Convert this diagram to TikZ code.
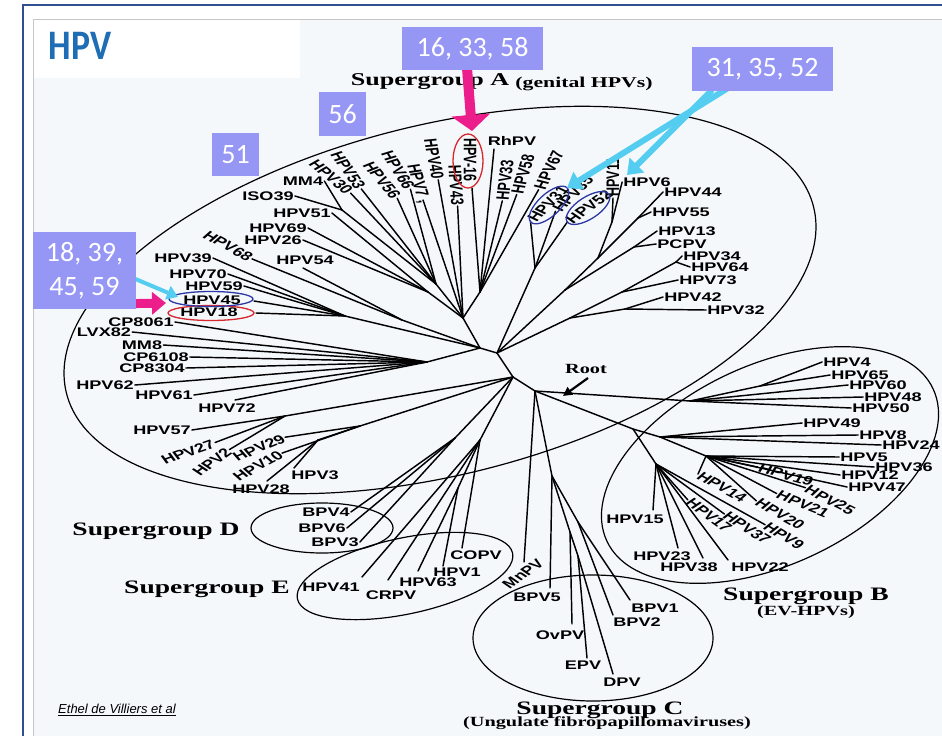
\documentclass[tikz,border=0pt]{standalone}
\usepackage{fontspec}
\usepackage{graphicx}
\setmainfont{Liberation Serif}
\newfontfamily\labfont{Liberation Sans}
\newfontfamily\boxfont{Carlito}
\usetikzlibrary{arrows.meta}
\newcommand{\lbl}[2][0]{\scalebox{1.45}[1]{\rotatebox{#1}{#2}}}
\definecolor{hpvblue}{RGB}{31,109,180}
\definecolor{lav}{RGB}{150,150,245}
\definecolor{pinkc}{RGB}{236,30,140}
\definecolor{cyanc}{RGB}{85,205,240}
\definecolor{bgscan}{RGB}{245,248,251}
\definecolor{frameblue}{RGB}{47,79,143}
\definecolor{ringred}{RGB}{215,40,45}
\definecolor{ringblue}{RGB}{45,55,165}
\begin{document}
\begin{tikzpicture}[x=1pt,y=-1pt,
  lab/.style={font=\labfont\bfseries\fontsize{12.5}{13}\selectfont, inner sep=1pt},
  br/.style={draw=black, line width=1.45pt, line cap=round, line join=round},
  grp/.style={draw=black, line width=1.2pt},
  sgbig/.style={font=\bfseries\fontsize{19}{19}\selectfont, inner sep=0pt},
  sgsub/.style={font=\bfseries\fontsize{14}{14}\selectfont, inner sep=0pt},
  numbox/.style={fill=lav, text=white, font=\boxfont\fontsize{28}{34}\selectfont, inner sep=0pt, align=center},
  ringr/.style={draw=ringred, line width=1.3pt},
  ringb/.style={draw=ringblue, line width=1.3pt}
]
\useasboundingbox (0,0) rectangle (942,736);
\fill[white] (0,0) rectangle (942,736);
\fill[bgscan] (33,19) rectangle (942,736);
\fill[white] (34,20) rectangle (300,78);
\draw[gray!45, line width=0.8pt] (33,736) -- (33,19) -- (942,19);
\draw[frameblue, line width=1.6pt] (23,736) -- (23,5) -- (942,5);

% title
\node[text=hpvblue, font=\boxfont\bfseries\fontsize{42}{42}\selectfont, inner sep=0pt] (title) at (80,46) {\scalebox{0.85}[1]{HPV}};

% group ellipses
\draw[grp, rotate around={14:(440,300)}] (440,300) ellipse [x radius=385, y radius=175];
\draw[grp, rotate around={25:(770,465)}] (770,465) ellipse [x radius=180, y radius=100];
\draw[grp] (593,638) ellipse [x radius=120, y radius=63];
\draw[grp] (322,528) ellipse [x radius=71, y radius=25];
\draw[grp, rotate around={12:(405,576)}] (405,576) ellipse [x radius=110, y radius=38];

% ---------- labels ----------
% Supergroup A top
\node[lab] (mm4) at (303,181) {\lbl{MM4}};
\node[lab] (iso39) at (268,196) {\lbl{ISO39}};
\node[lab] (h30) at (331,177) {\lbl[-50]{HPV30}};
\node[lab] (h53) at (348,170) {\lbl[-64]{HPV53}};
\node[lab] (h56) at (382,180) {\lbl[-60]{HPV56}};
\node[lab] (h66) at (398,170) {\lbl[-66]{HPV66}};
\node[lab] (h7) at (418,184) {\lbl[-78]{HPV7\hspace{4pt},}};
\node[lab] (h40) at (434,159) {\lbl[-82]{HPV40}};
\node[lab] (h43) at (456,185) {\lbl[-87]{HPV43}};
\node[lab] (h16) at (470,160) {\lbl[-90]{HPV-16}};
\node[lab] (rh) at (512,141) {\lbl{RhPV}};
\node[lab] (h33) at (505,180) {\lbl[85]{HPV33}};
\node[lab] (h58) at (523,174) {\lbl[78]{HPV58}};
\node[lab] (h67) at (549,170) {\lbl[70]{HPV67}};
\node[lab] (h31) at (548,204) {\lbl[55]{HPV31}};
\node[lab] (h35) at (573,194) {\lbl[55]{HPV35}};
\node[lab] (h52) at (589,207) {\lbl[45]{HPV52}};
\node[lab] (h11) at (613,177) {\lbl[90]{HPV11}};
\node[lab] (h6) at (647,182) {\lbl{HPV6}};
\node[lab] (h44) at (693,192) {\lbl{HPV44}};
\node[lab] (h55) at (681,212) {\lbl{HPV55}};
\node[lab] (h13) at (687,231) {\lbl{HPV13}};
\node[lab] (pcpv) at (682,244) {\lbl{PCPV}};
\node[lab] (h34) at (712,256) {\lbl{HPV34}};
\node[lab] (h64) at (720,267) {\lbl{HPV64}};
\node[lab] (h73) at (708,280) {\lbl{HPV73}};
\node[lab] (h42) at (693,297) {\lbl{HPV42}};
\node[lab] (h32) at (736,310) {\lbl{HPV32}};
% Supergroup A left
\node[lab] (h51) at (302,213) {\lbl{HPV51}};
\node[lab] (h69) at (278,228) {\lbl{HPV69}};
\node[lab] (h26) at (273,240) {\lbl{HPV26}};
\node[lab] (h68) at (228,246) {\lbl[-38]{HPV68}};
\node[lab] (h54) at (305,260) {\lbl{HPV54}};
\node[lab] (h39) at (183,258) {\lbl{HPV39}};
\node[lab] (h70) at (198,274) {\lbl{HPV70}};
\node[lab] (h59) at (214,286) {\lbl{HPV59}};
\node[lab] (h45) at (212,300) {\lbl{HPV45}};
\node[lab] (h18) at (209,312) {\lbl{HPV18}};
\node[lab] (cp8061) at (141,322) {\lbl{CP8061}};
\node[lab] (lvx82) at (104,332) {\lbl{LVX82}};
\node[lab] (mm8) at (142,345) {\lbl{MM8}};
\node[lab] (cp6108) at (156,357) {\lbl{CP6108}};
\node[lab] (cp8304) at (152,368) {\lbl{CP8304}};
\node[lab] (h62) at (105,385) {\lbl{HPV62}};
\node[lab] (h61) at (164,395) {\lbl{HPV61}};
\node[lab] (h72) at (227,408) {\lbl{HPV72}};
\node[lab] (h57) at (162,430) {\lbl{HPV57}};
\node[lab] (h27) at (188,452) {\lbl[27]{HPV27}};
\node[lab] (h2) at (212,462) {\lbl[46]{HPV2}};
\node[lab] (h29) at (259,448) {\lbl[31]{HPV29}};
\node[lab] (h10) at (258,466) {\lbl[38]{HPV10}};
\node[lab] (h3) at (315,475) {\lbl{HPV3}};
\node[lab] (h28) at (261,489) {\lbl{HPV28}};
% D
\node[lab] (bpv4) at (326,512) {\lbl{BPV4}};
\node[lab] (bpv6) at (322,528) {\lbl{BPV6}};
\node[lab] (bpv3) at (335,542) {\lbl{BPV3}};
% E
\node[lab] (h41) at (331,587) {\lbl{HPV41}};
\node[lab] (crpv) at (391,595) {\lbl{CRPV}};
\node[lab] (h63) at (428,582) {\lbl{HPV63}};
\node[lab] (h1) at (457,572) {\lbl{HPV1}};
\node[lab] (copv) at (476,555) {\lbl{COPV}};
\node[lab] (mnpv) at (523,574) {\lbl[45]{MnPV}};
% C
\node[lab] (bpv5) at (537,597) {\lbl{BPV5}};
\node[lab] (ovpv) at (560,635) {\lbl{OvPV}};
\node[lab] (epv) at (583,665) {\lbl{EPV}};
\node[lab] (dpv) at (622,682) {\lbl{DPV}};
\node[lab] (bpv1) at (655,608) {\lbl{BPV1}};
\node[lab] (bpv2) at (637,622) {\lbl{BPV2}};
% B
\node[lab] (h4) at (847,362) {\lbl{HPV4}};
\node[lab] (h65) at (860,375) {\lbl{HPV65}};
\node[lab] (h60) at (878,385) {\lbl{HPV60}};
\node[lab] (h48) at (893,397) {\lbl{HPV48}};
\node[lab] (h50) at (881,408) {\lbl{HPV50}};
\node[lab] (h49) at (832,423) {\lbl{HPV49}};
\node[lab] (h8) at (883,435) {\lbl{HPV8}};
\node[lab] (h24) at (911,445) {\lbl{HPV24}};
\node[lab] (h5) at (864,457) {\lbl{HPV5}};
\node[lab] (h36) at (904,467) {\lbl{HPV36}};
\node[lab] (h12) at (870,475) {\lbl{HPV12}};
\node[lab] (h47) at (877,487) {\lbl{HPV47}};
\node[lab] (h19) at (786,475) {\lbl[-22]{HPV19}};
\node[lab] (h25) at (830,500) {\lbl[-36]{HPV25}};
\node[lab] (h21) at (803,504) {\lbl[-30]{HPV21}};
\node[lab] (h20) at (780,514) {\lbl[-39]{HPV20}};
\node[lab] (h14) at (722,487) {\lbl[-38]{HPV14}};
\node[lab] (h9) at (784,536) {\lbl[-41]{HPV9}};
\node[lab] (h37) at (747,528) {\lbl[-42]{HPV37}};
\node[lab] (h17) at (709,515) {\lbl[-46]{HPV17}};
\node[lab] (h15) at (635,519) {\lbl{HPV15}};
\node[lab] (h23) at (662,556) {\lbl{HPV23}};
\node[lab] (h38) at (689,567) {\lbl{HPV38}};
\node[lab] (h22) at (760,567) {\lbl{HPV22}};

% ---------- coordinates: leaf ends ----------
\coordinate (e30) at (350.6,193.1);
\coordinate (e53) at (361.3,188.9);
\coordinate (e56) at (397.2,198.2);
\coordinate (e66) at (410.4,189.2);
\coordinate (e7) at (423,200);
\coordinate (e40) at (438.2,179.8);
\coordinate (e43) at (457.6,206);
\coordinate (e16) at (472,188);
\coordinate (eRh) at (494,149);
\coordinate (e33) at (502.3,200.9);
\coordinate (e58) at (516.7,194.5);
\coordinate (e67) at (538.6,189.7);
\coordinate (e31) at (530.5,221.2);
\coordinate (e35) at (555.5,211.2);
\coordinate (e52) at (567.5,221.8);
\coordinate (e11) at (613,198);
\coordinate (e68) at (252,258.9);
\coordinate (e54) at (303,268);
\coordinate (e45) at (254,301);
\coordinate (e18) at (256,313);
\coordinate (e72) at (235,400);
\coordinate (e27) at (215.1,442.5);
\coordinate (e2) at (229.4,449.6);
\coordinate (e29) at (285.1,437.2);
\coordinate (e10) at (282,453.1);
\coordinate (e3) at (294,468);
\coordinate (e28) at (267,481);
\coordinate (e41) at (362,577);
\coordinate (eCR) at (388,580);
\coordinate (e63) at (418,571);
\coordinate (eH1) at (443,566);
\coordinate (eCO) at (462,548);
\coordinate (eMn) at (524,562);
\coordinate (eB5) at (550,588);
\coordinate (eOv) at (572,624);
\coordinate (eEPV) at (587,658);
\coordinate (eDPV) at (613,674);
\coordinate (eB1) at (630,600);
\coordinate (eB2) at (613,615);
\coordinate (w19) at (757.8,467.1);
\coordinate (w25) at (805.4,487.7);
\coordinate (w21) at (776.6,493.5);
\coordinate (w20) at (756.3,500.8);
\coordinate (w14) at (698,474.1);
\coordinate (w9) at (765.1,524.7);
\coordinate (w37) at (724.4,514);
\coordinate (w17) at (687.8,499.9);
\coordinate (e15) at (653,510);
\coordinate (e23) at (678,548);
\coordinate (e38) at (703,558);
\coordinate (e22) at (728,560);

% ---------- hubs ----------
\coordinate (C0) at (480,348);
\coordinate (P) at (463,318);
\coordinate (RB) at (497,353);
\coordinate (M) at (513,377);
\coordinate (R) at (535,391);
\coordinate (T2) at (480,292);
\coordinate (pa) at (436,284);
\coordinate (k1) at (342,210);
\coordinate (U1) at (428,292);
\coordinate (LA) at (345,316);
\coordinate (LA2) at (402,320);
\coordinate (LB) at (427,362);
\coordinate (n57) at (285,416);
\coordinate (n3) at (318,440);
\coordinate (n29) at (360,426);
\coordinate (d1) at (455,438);
\coordinate (hubE) at (480,440);
\coordinate (hubE2) at (458,488);
\coordinate (r31) at (535,268);
\coordinate (r11) at (612,222);
\coordinate (r44) at (638,218);
\coordinate (ra) at (598,258);
\coordinate (r13) at (634,247);
\coordinate (rb) at (565,290);
\coordinate (r34) at (676,262);
\coordinate (rc) at (622,292);
\coordinate (re) at (625,309);
\coordinate (rd) at (570,318);
\coordinate (c0) at (552,476);
\coordinate (c1) at (570,532);
\coordinate (c2) at (578,556);
\coordinate (c3) at (578,522);
\coordinate (bT) at (690,401);
\coordinate (b1) at (760,386);
\coordinate (bL1) at (633,429);
\coordinate (bL2) at (660,437);
\coordinate (bL3) at (706,456);
\coordinate (bL4) at (656,464);

% ---------- branches ----------
\draw[br] (P) -- (C0) -- (RB) -- (M) -- (R);
% top-left fan
\draw[br] (mm4.east) -- (k1);
\draw[br] (iso39.east) -- (k1);
\draw[br] (k1) -- (pa);
\draw[br] (e30) -- (pa);
\draw[br] (e53) -- (pa);
\draw[br] (e56) -- (pa);
\draw[br] (e66) -- (pa);
\draw[br] (pa) -- (P);
\draw[br] (e7) -- (P);
\draw[br] (e40) -- (P);
\draw[br] (e43) -- (P);
\draw[br] (e16) -- (T2);
\draw[br] (eRh) -- (T2);
\draw[br] (e33) -- (T2);
\draw[br] (e58) -- (T2);
\draw[br] (e67) -- (T2);
\draw[br] (T2) -- (P);
\draw[br] (h51.east) -- (U1);
\draw[br] (h69.east) -- (U1);
\draw[br] (h26.east) -- (U1);
\draw[br] (U1) -- (P);
% left
\draw[br] (e68) -- (LA2);
\draw[br] (e54) -- (LA2);
\draw[br] (LA2) -- (C0);
\draw[br] (h39.east) -- (LA);
\draw[br] (h70.east) -- (LA);
\draw[br] (h59.east) -- (LA);
\draw[br] (e45) -- (LA);
\draw[br] (e18) -- (LA);
\draw[br] (LA) -- (C0);
\draw[br] (cp8061.east) -- (LB);
\draw[br] (lvx82.east) -- (LB);
\draw[br] (mm8.east) -- (LB);
\draw[br] (cp6108.east) -- (LB);
\draw[br] (cp8304.east) -- (LB);
\draw[br] (h62.east) -- (LB);
\draw[br] (h61.east) -- (LB);
\draw[br] (e72) -- (LB);
\draw[br] (LB) -- (C0);
% lower left
\draw[br] (h57.east) -- (n57) -- (M);
\draw[br] (e27) -- (n57);
\draw[br] (e2) -- (n57);
\draw[br] (e29) -- (n29);
\draw[br] (e10) -- (n29);
\draw[br] (e3) -- (n3);
\draw[br] (e28) -- (n3);
\draw[br] (n3) -- (n29) -- (M);
% right bundle of A
\draw[br] (e31) -- (r31);
\draw[br] (e35) -- (r31);
\draw[br] (e52) -- (r31);
\draw[br] (r31) -- (RB);
\draw[br] (e11) -- (r11);
\draw[br] (h6.west) -- (r11);
\draw[br] (r11) -- (ra);
\draw[br] (h44.west) -- (r44);
\draw[br] (h55.west) -- (r44);
\draw[br] (r44) -- (ra);
\draw[br] (ra) -- (rb);
\draw[br] (h13.west) -- (r13);
\draw[br] (pcpv.west) -- (r13);
\draw[br] (r13) -- (rb);
\draw[br] (rb) -- (RB);
\draw[br] (h34.west) -- (r34);
\draw[br] (h64.west) -- (r34);
\draw[br] (r34) -- (rc);
\draw[br] (h73.west) -- (rc);
\draw[br] (rc) -- (rd);
\draw[br] (h42.west) -- (re);
\draw[br] (h32.west) -- (re);
\draw[br] (re) -- (rd);
\draw[br] (rd) -- (RB);
% D and E
\draw[br] (bpv4.east) -- (d1);
\draw[br] (bpv6.east) -- (d1);
\draw[br] (bpv3.east) -- (d1);
\draw[br] (d1) -- (M);
\draw[br] (e41) -- (hubE);
\draw[br] (eCR) -- (hubE);
\draw[br] (e63) -- (hubE2);
\draw[br] (eH1) -- (hubE2);
\draw[br] (hubE2) -- (hubE);
\draw[br] (eCO) -- (hubE);
\draw[br] (hubE) -- (M);
% MnPV and C
\draw[br] (eMn) -- (R);
\draw[br] (R) -- (c0);
\draw[br] (c0) -- (eB5);
\draw[br] (c0) -- (c1);
\draw[br] (c1) -- (eOv);
\draw[br] (c1) -- (c2);
\draw[br] (c2) -- (eEPV);
\draw[br] (c2) -- (eDPV);
\draw[br] (c0) -- (c3);
\draw[br] (c3) -- (eB1);
\draw[br] (c3) -- (eB2);
% B
\draw[br] (R) -- (bT);
\draw[br] (bT) -- (b1);
\draw[br] (b1) -- (h4.west);
\draw[br] (b1) -- (h65.west);
\draw[br] (bT) -- (h60.west);
\draw[br] (bT) -- (h48.west);
\draw[br] (bT) -- (h50.west);
\draw[br] (R) -- (bL1);
\draw[br] (bL1) -- (bL2);
\draw[br] (bL2) -- (h49.west);
\draw[br] (bL2) -- (h8.west);
\draw[br] (bL2) -- (h24.west);
\draw[br] (bL2) -- (bL3);
\draw[br] (bL3) -- (h5.west);
\draw[br] (bL3) -- (h36.west);
\draw[br] (bL3) -- (h12.west);
\draw[br] (bL3) -- (h47.west);
\draw[br] (bL3) -- (w19);
\draw[br] (bL3) -- (w25);
\draw[br] (bL3) -- (w21);
\draw[br] (bL3) -- (w20);
\draw[br] (bL3) -- (w14);
\draw[br] (bL1) -- (bL4);
\draw[br] (bL4) -- (w9);
\draw[br] (bL4) -- (w37);
\draw[br] (bL4) -- (w17);
\draw[br] (bL4) -- (e22);
\draw[br] (bL4) -- (e38);
\draw[br] (bL4) -- (e23);
\draw[br] (bL4) -- (e15);

% ---------- group titles ----------
\node[font=\bfseries\fontsize{18}{18}\selectfont, inner sep=0pt] (sgA) at (430,82) {\scalebox{1.45}[1]{Supergroup A}};
\node[font=\bfseries\fontsize{15}{15}\selectfont, inner sep=0pt] (sgAs) at (584,84) {\scalebox{1.45}[1]{(genital HPVs)}};
\node[sgbig] (sgB) at (806,596) {\scalebox{1.45}[1]{Supergroup B}};
\node[sgsub] (sgBs) at (806,612) {\scalebox{1.45}[1]{(EV-HPVs)}};
\node[sgbig] (sgC) at (600,710) {\scalebox{1.45}[1]{Supergroup C}};
\node[sgsub] (sgCs) at (607,723) {\scalebox{1.45}[1]{(Ungulate fibropapillomaviruses)}};
\node[sgbig] (sgD) at (156,531) {\scalebox{1.45}[1]{Supergroup D}};
\node[sgbig] (sgE) at (207,589) {\scalebox{1.45}[1]{Supergroup E}};
\node[font=\bfseries\fontsize{14}{14}\selectfont, inner sep=0pt] (root) at (586,369) {\scalebox{1.45}[1]{Root}};
\coordinate (rootTip) at (563,396);
\draw[line width=2.2pt, -{Triangle[length=9pt,width=9pt]}] (588,378) -- (rootTip);

% ---------- coloured rings ----------
\draw[ringr] (468,161) ellipse [x radius=15, y radius=27];
\draw[ringr] (211,313) ellipse [x radius=43, y radius=7.5];
\draw[ringb] (211,299) ellipse [x radius=42, y radius=7.5];
\draw[ringb, rotate around={43:(549,205)}] (549,205) ellipse [x radius=25, y radius=11];
\draw[ringb, rotate around={33:(588,208)}] (588,208) ellipse [x radius=25, y radius=11];

% ---------- highlight arrows ----------
\coordinate (pinkTip) at (472,131);
\coordinate (pinkTail) at (467,68);
\draw[pinkc, line width=10pt, -{Triangle[length=16pt,width=38pt]}] (pinkTail) -- (pinkTip);
\coordinate (pinkL) at (110,304);
\coordinate (pinkLTip) at (166,303);
\draw[pinkc, line width=9pt, -{Triangle[length=14pt,width=22pt]}] (pinkL) -- (pinkLTip);
\coordinate (cyL) at (126,275);
\coordinate (cyLTip) at (178,297);
\draw[cyanc, line width=4pt, -{Triangle[length=11pt,width=14pt]}] (cyL) -- (cyLTip);
\coordinate (cyA) at (728,88);
\coordinate (cyATip) at (567,188);
\coordinate (cyB) at (712,90);
\coordinate (cyBTip) at (627,175);
\draw[cyanc, line width=6pt, -{Triangle[length=14pt,width=20pt]}] (cyA) -- (cyATip);
\draw[cyanc, line width=6pt, -{Triangle[length=14pt,width=20pt]}] (cyB) -- (cyBTip);

% ---------- number boxes ----------
\node[numbox, minimum width=141pt, minimum height=43pt] (b16) at (472.5,48.5) {16, 33, 58};
\node[numbox, minimum width=141pt, minimum height=44pt] (b31) at (762.5,69) {31, 35, 52};
\node[numbox, minimum width=47pt, minimum height=44pt] (b56) at (342.5,114) {56};
\node[numbox, minimum width=47pt, minimum height=43pt] (b51) at (235.5,154.5) {51};
\node[numbox, minimum width=103pt, minimum height=77pt] (b18) at (84.5,270.5) {18, 39,\\45, 59};

% citation
\node[font=\labfont\itshape\fontsize{13}{13}\selectfont, inner sep=0pt] (cite) at (117,710) {\underline{Ethel de Villiers et al}};
\end{tikzpicture}
\end{document}
